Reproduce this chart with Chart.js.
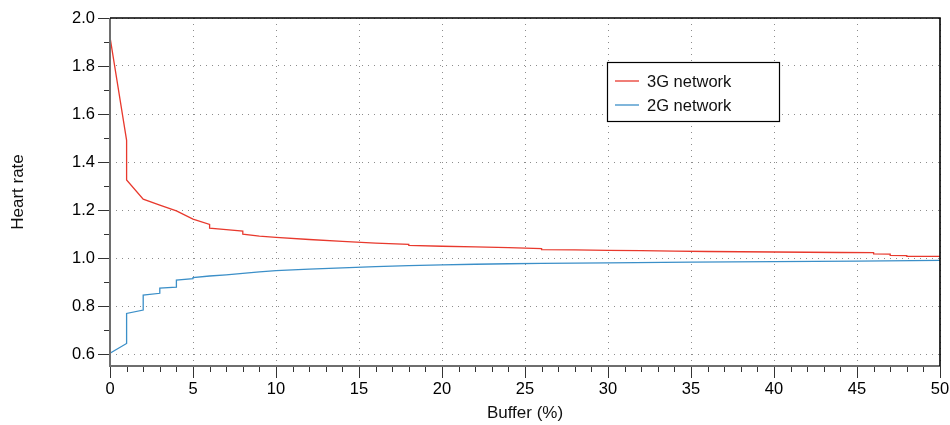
<!DOCTYPE html>
<html>
<head>
<meta charset="utf-8">
<title>Heart rate vs buffer</title>
<script src="https://cdn.jsdelivr.net/npm/chart.js@4.4.1/dist/chart.umd.min.js"></script>
<style>
  html, body { margin: 0; padding: 0; background: #fff; }
  #wrap { width: 950px; height: 425px; }
</style>
</head>
<body>
<div id="wrap"><canvas id="heartChart" width="950" height="425"></canvas></div>
<script>
// ── Series data ───────────────────────────────────────────────────────────
const x3G = [0, 1, 1, 2, 3, 4, 5, 6, 6, 7, 8, 8, 9, 10, 12, 14, 16, 18, 18, 20,
             22, 24, 26, 26, 28, 30, 32, 34, 36, 38, 40, 42, 44, 46, 46, 47, 47, 48, 48, 50];
const y3G = [1.92, 1.49, 1.325, 1.245, 1.22, 1.196, 1.162, 1.14, 1.124, 1.118, 1.112, 1.099,
             1.091, 1.086, 1.077, 1.069, 1.062, 1.057, 1.053, 1.049, 1.046, 1.043, 1.039, 1.035,
             1.034, 1.032, 1.031, 1.029, 1.027, 1.026, 1.025, 1.024, 1.023, 1.022, 1.017, 1.016,
             1.011, 1.010, 1.007, 1.007];

const x2G = [0, 1, 1, 2, 2, 3, 3, 4, 4, 5, 5, 6, 7, 8, 9, 10, 12, 14, 16, 18,
             20, 22, 24, 26, 28, 30, 35, 40, 45, 50];
const y2G = [0.603, 0.644, 0.769, 0.783, 0.845, 0.853, 0.875, 0.879, 0.908, 0.914,
             0.918, 0.925, 0.930, 0.936, 0.942, 0.947, 0.954, 0.959, 0.964, 0.968,
             0.971, 0.974, 0.976, 0.978, 0.979, 0.980, 0.983, 0.985, 0.987, 0.990];

const seriesLabels = ['3G network', '2G network'];

// ── Axis ticks ────────────────────────────────────────────────────────────
const xTicks = [0, 5, 10, 15, 20, 25, 30, 35, 40, 45, 50];
const yTicks = [0.6, 0.8, 1.0, 1.2, 1.4, 1.6, 1.8, 2.0];
const xMinorStep = 1;
const yMinorStep = 0.1;

const FONT = "'Liberation Sans', Arial, Helvetica, sans-serif";
const RED = '#e8392d';
const BLUE = '#3b8fc8';

const toPoints = (xs, ys) => xs.map((x, i) => ({ x, y: ys[i] }));

// Tick marks, axis lines and the black frame on top/right
const axesPlugin = {
    id: 'axesFrame',
    afterDatasetsDraw(chart) {
        const { ctx, chartArea: a, scales: { x, y } } = chart;
        ctx.save();
        ctx.lineWidth = 1;
        ctx.strokeStyle = '#333';
        ctx.beginPath();
        for (let v = x.min; v <= x.max + 1e-9; v += xMinorStep) {
            const px = Math.round(x.getPixelForValue(v)) + 0.5;
            const major = xTicks.some(t => Math.abs(t - v) < 1e-6);
            ctx.moveTo(px, a.bottom);
            ctx.lineTo(px, a.bottom + (major ? 12 : 6));
        }
        for (let v = 0.6; v <= y.max + 1e-9; v += yMinorStep) {
            const py = Math.round(y.getPixelForValue(v)) + 0.5;
            const major = yTicks.some(t => Math.abs(t - v) < 1e-6);
            ctx.moveTo(a.left, py);
            ctx.lineTo(a.left - (major ? 12 : 6), py);
        }
        ctx.stroke();

        // left and bottom axes (grey)
        ctx.lineWidth = 2;
        ctx.strokeStyle = '#6e6e6e';
        ctx.beginPath();
        ctx.moveTo(a.left, a.top);
        ctx.lineTo(a.left, a.bottom);
        ctx.lineTo(a.right, a.bottom);
        ctx.stroke();

        // top and right frame (black)
        ctx.lineWidth = 1.6;
        ctx.strokeStyle = '#000';
        ctx.beginPath();
        ctx.moveTo(a.left, a.top);
        ctx.lineTo(a.right, a.top);
        ctx.lineTo(a.right, a.bottom);
        ctx.stroke();
        ctx.restore();
    }
};

// Boxed legend inside the plot area
const boxLegend = {
    id: 'boxLegend',
    afterDraw(chart) {
        const { ctx } = chart;
        const box = { x: 607, y: 62, w: 172, h: 59 };
        ctx.save();
        ctx.fillStyle = '#fff';
        ctx.fillRect(box.x, box.y, box.w, box.h);
        ctx.lineWidth = 1.2;
        ctx.strokeStyle = '#000';
        ctx.strokeRect(box.x + 0.5, box.y + 0.5, box.w, box.h);
        ctx.font = '16.5px ' + FONT;
        ctx.textBaseline = 'middle';
        ctx.fillStyle = '#111';
        chart.data.datasets.forEach((ds, i) => {
            const cy = box.y + 19 + i * 24;
            ctx.strokeStyle = ds.borderColor;
            ctx.lineWidth = 1.3;
            ctx.beginPath();
            ctx.moveTo(box.x + 8, cy);
            ctx.lineTo(box.x + 32, cy);
            ctx.stroke();
            ctx.fillText(ds.label, box.x + 40, cy + 1);
        });
        ctx.restore();
    }
};

new Chart(document.getElementById('heartChart').getContext('2d'), {
    type: 'line',
    data: {
        datasets: [{
            label: seriesLabels[0],
            data: toPoints(x3G, y3G),
            borderColor: RED,
            borderWidth: 1.3,
            pointRadius: 0,
            tension: 0,
            fill: false
        }, {
            label: seriesLabels[1],
            data: toPoints(x2G, y2G),
            borderColor: BLUE,
            borderWidth: 1.3,
            pointRadius: 0,
            tension: 0,
            fill: false
        }]
    },
    options: {
        responsive: false,
        animation: false,
        devicePixelRatio: 1,
        layout: { padding: { left: 0, top: 18, right: 10, bottom: 0 } },
        plugins: {
            legend: { display: false },
            tooltip: { enabled: false }
        },
        scales: {
            x: {
                type: 'linear',
                min: 0,
                max: 50,
                afterBuildTicks: s => { s.ticks = xTicks.map(v => ({ value: v })); },
                afterFit: s => { s.height = 59; s.paddingLeft = 0; s.paddingRight = 0; },
                grid: { color: '#8c8c8c', lineWidth: 1, drawTicks: false },
                border: { display: false, dash: [1, 5] },
                ticks: { color: '#000', padding: 14, maxRotation: 0, font: { family: FONT, size: 16.5 } },
                title: {
                    display: true,
                    text: 'Buffer (%)',
                    color: '#111',
                    padding: { top: 0, bottom: 1 },
                    font: { family: FONT, size: 17 }
                }
            },
            y: {
                type: 'linear',
                min: 0.55,
                max: 2.0,
                afterBuildTicks: s => { s.ticks = yTicks.map(v => ({ value: v })); },
                afterFit: s => { s.width = 110; s.paddingTop = 0; s.paddingBottom = 0; },
                grid: { color: '#8c8c8c', lineWidth: 1, drawTicks: false },
                border: { display: false, dash: [1, 5] },
                ticks: {
                    color: '#000',
                    padding: 15,
                    font: { family: FONT, size: 16.5 },
                    callback: v => v.toFixed(1)
                },
                title: {
                    display: true,
                    text: 'Heart rate',
                    color: '#111',
                    padding: { top: 8, bottom: 0 },
                    font: { family: FONT, size: 17 }
                }
            }
        }
    },
    plugins: [axesPlugin, boxLegend]
});
</script>
</body>
</html>
